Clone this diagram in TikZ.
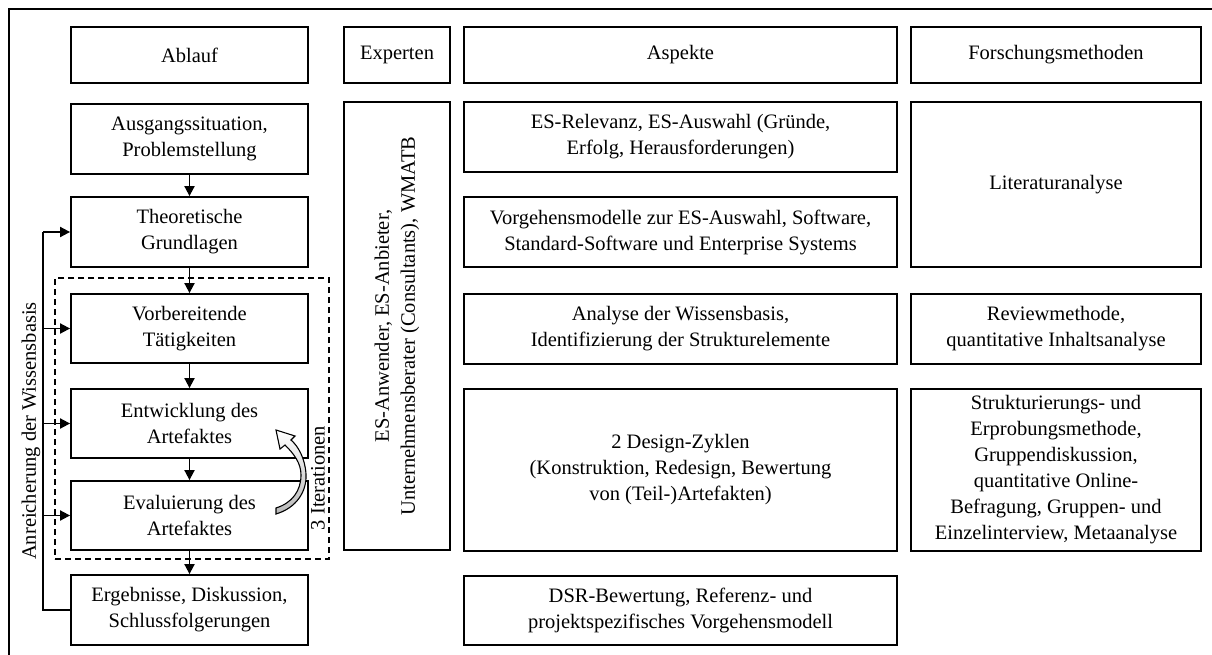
\documentclass[tikz,border=0pt]{standalone}
\usepackage{fontspec}
\setmainfont{Liberation Serif}
\usetikzlibrary{arrows.meta}

\begin{document}
\begin{tikzpicture}[x=1pt,y=-1pt,
		box/.style={draw,line width=1.8pt,inner sep=0pt,align=center,font=\fontsize{20.5}{26}\selectfont},
		schrift/.style={inner sep=0pt,align=center,font=\fontsize{20.5}{26}\selectfont},
		pfeil/.style={line width=1.8pt,-{Triangle[length=10pt,width=10pt]}}]
			\useasboundingbox (0,0) rectangle (1212,655);
			\draw[line width=1.8pt] (9,655) -- (9,9) -- (1212,9);

			% Kopfzeile
			\node[box,minimum width=237pt,minimum height=56pt] (ablauf) at (189.5,55) {Ablauf};
			\node[box,minimum width=106pt,minimum height=56pt] (experten) at (397,55) {Experten};
			\node[box,minimum width=433pt,minimum height=56pt] (aspekte) at (680.5,55) {Aspekte};
			\node[box,minimum width=290pt,minimum height=56pt] (methoden) at (1056,55) {Forschungsmethoden};

			% Ablauf
			\node[box,minimum width=237pt,minimum height=70pt] (ausg) at (189.5,139) {Ausgangssituation,\\Problemstellung};
			\node[box,minimum width=237pt,minimum height=70pt] (theo) at (189.5,232) {Theoretische\\Grundlagen};
			\node[box,minimum width=237pt,minimum height=69pt] (vor) at (189.5,328.5) {Vorbereitende\\Tätigkeiten};
			\node[box,minimum width=237pt,minimum height=69pt] (entw) at (189.5,423.5) {Entwicklung des\\Artefaktes};
			\node[box,minimum width=237pt,minimum height=69pt] (eval) at (189.5,515.5) {Evaluierung des\\Artefaktes};
			\node[box,minimum width=237pt,minimum height=70pt] (erg) at (189.5,610) {Ergebnisse, Diskussion,\\Schlussfolgerungen};

			\node[draw,dashed,dash pattern=on 6pt off 4pt,line width=1.6pt,inner sep=0pt,minimum width=274pt,minimum height=281pt] (iter) at (192,418.5) {};
			\node[schrift,rotate=90] (iterlabel) at (318,478) {3 Iterationen};

			\draw[pfeil] (ausg) -- (theo);
			\draw[pfeil] (theo) -- (vor);
			\draw[pfeil] (vor) -- (entw);
			\draw[pfeil] (entw) -- (eval);
			\draw[pfeil] (eval) -- (erg);

			% Rueckfuehrung
			\coordinate (bus) at (43,0);
			\draw[line width=2.8pt] (erg.west) -| (bus |- theo.west);
			\foreach \ziel in {theo,vor,entw,eval}
				\draw[pfeil] (bus |- \ziel.west) -- (\ziel.west);
			\node[schrift,rotate=90] (anreicherung) at (31,431) {Anreicherung der Wissensbasis};

			% gebogener Pfeil
			\draw[line width=1.1pt,top color=white,middle color=white,bottom color=gray!55]
				(276,514) .. controls (296,508) and (307,492) .. (306,474)
				.. controls (305,458) and (298,446) .. (291,440)
				-- (295,436) -- (276,430) -- (280,449) -- (285,445)
				.. controls (294,454) and (301,463) .. (301,475)
				.. controls (301,491) and (292,503) .. (276,508) -- cycle;

			% Experten
			\node[box,rotate=90,minimum width=448pt,minimum height=106pt] (gruppe) at (397,326) {ES-Anwender, ES-Anbieter,\\Unternehmensberater (Consultants), WMATB};

			% Aspekte
			\node[box,minimum width=433pt,minimum height=70pt] (relevanz) at (680.5,137) {ES-Relevanz, ES-Auswahl (Gründe,\\Erfolg, Herausforderungen)};
			\node[box,minimum width=433pt,minimum height=70pt] (modelle) at (680.5,232) {Vorgehensmodelle zur ES-Auswahl, Software,\\Standard-Software und Enterprise Systems};
			\node[box,minimum width=433pt,minimum height=70pt] (analyse) at (680.5,329) {Analyse der Wissensbasis,\\Identifizierung der Strukturelemente};
			\node[box,minimum width=433pt,minimum height=162pt] (zyklen) at (680.5,470) {2 Design-Zyklen\\(Konstruktion, Redesign, Bewertung\\von (Teil-)Artefakten)};
			\node[box,minimum width=433pt,minimum height=69pt] (dsr) at (680.5,610.5) {DSR-Bewertung, Referenz- und\\projektspezifisches Vorgehensmodell};

			% Forschungsmethoden
			\node[box,minimum width=290pt,minimum height=165pt] (literatur) at (1056,184.5) {Literaturanalyse};
			\node[box,minimum width=290pt,minimum height=70pt] (review) at (1056,329) {Reviewmethode,\\quantitative Inhaltsanalyse};
			\node[box,minimum width=290pt,minimum height=162pt] (struktur) at (1056,470) {Strukturierungs- und\\Erprobungsmethode,\\Gruppendiskussion,\\quantitative Online-\\Befragung, Gruppen- und\\Einzelinterview, Metaanalyse};
		\end{tikzpicture}
\end{document}
